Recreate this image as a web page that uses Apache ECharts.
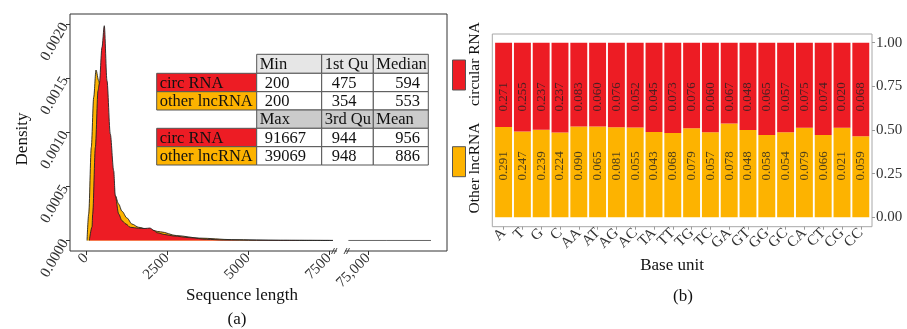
<!DOCTYPE html>
<html><head><meta charset="utf-8">
<script src="https://cdn.jsdelivr.net/npm/echarts@6/dist/echarts.min.js"></script>
<style>html,body{margin:0;padding:0;background:#fff}#c{width:907px;height:329px}</style>
</head><body><div id="c"></div>
<script>
// ---------- data ----------
const densityCirc = [[102,0],[185,0.000125],[206,0.000245],[288,0.000861],[370,0.001384],[410,0.001446],[493,0.001785],[564,0.001984],[647,0.001476],[749,0.000984],[854,0.000645],[903,0.000414],[1008,0.000245],[1110,0.000183],[1233,0.000152],[1366,0.000122],[1625,0.000113],[1819,0.000111],[1973,0.000115],[2096,0.000092],[2189,0.000072],[2435,0.000055],[2691,0.000042],[3206,0.000026],[3721,0.000011],[4233,0.000005],[5262,0.000002],[6597,0.000001],[7620,0.0000005]];
const densityOther = [[31,0],[83,0.000245],[163,0.000861],[237,0.001323],[308,0.001575],[391,0.001476],[462,0.001344],[555,0.00116],[678,0.000882],[801,0.000605],[903,0.000414],[1008,0.000337],[1110,0.00027],[1264,0.000208],[1418,0.000152],[1625,0.000122],[1900,0.000103],[2300,0.00008],[2800,0.000045],[3500,0.000022],[4500,0.000008],[6000,0.000002],[7620,0.0000005]];
const densityCircTail = [[69800,0.0000004],[80000,0.0000003],[91667,0.0000002]];
const xTicksLeft = [0,2500,5000,7500];
const xTicksTail = [75000];
const yTicksDensity = [0,0.0005,0.001,0.0015,0.002];

const tableRowLabels = ['circ RNA','other lncRNA'];
const tableHead1 = ['Min','1st Qu','Median'];
const tableVals1 = [[200,475,594],[200,354,553]];
const tableHead2 = ['Max','3rd Qu','Mean'];
const tableVals2 = [[91667,944,956],[39069,948,886]];

const baseUnits = ['A','T','G','C','AA','AT','AG','AC','TA','TT','TG','TC','GA','GT','GG','GC','CA','CT','CG','CC'];
const circValues = [0.271,0.255,0.237,0.237,0.083,0.060,0.076,0.052,0.045,0.073,0.076,0.060,0.067,0.048,0.065,0.057,0.075,0.074,0.020,0.068];
const otherValues = [0.291,0.247,0.239,0.224,0.090,0.065,0.081,0.055,0.043,0.068,0.079,0.057,0.078,0.048,0.058,0.054,0.079,0.066,0.021,0.059];
const yTicksFill = [0,0.25,0.5,0.75,1];

// ---------- style ----------
const RED = '#ED1C24', ORANGE = '#FDB300';
const FONT = 'Liberation Serif';
const otherFrac = otherValues.map((v,i)=> v/(v+circValues[i]));
const circFrac = circValues.map((v,i)=> v/(v+otherValues[i]));

// table graphics
const colX = [156.7, 256.7, 321.7, 373.3, 428.3];
const rowY = [54.3, 73.3, 91.7, 110, 128.3, 146.7, 165];
const numPad = [8, 10, 22];
const tableEls = [];
function cell(x0,x1,y0,y1,fill){
  tableEls.push({type:'rect', shape:{x:x0,y:y0,width:x1-x0,height:y1-y0}, style:{fill:fill, stroke:'#555', lineWidth:1}, z:10});
}
function txt(s,x,y,align){
  tableEls.push({type:'text', x:x, y:y, style:{text:String(s), fill:'#111', font:'16.5px "'+FONT+'"', align:align||'left', verticalAlign:'middle'}, z:11});
}
[[tableHead1,tableVals1,0,'#E6E6E6'],[tableHead2,tableVals2,3,'#CBCBCB']].forEach(([head,vals,r0,hcol])=>{
  head.forEach((h,j)=>{ cell(colX[j+1],colX[j+2],rowY[r0],rowY[r0+1],hcol); txt(h,colX[j+1]+3,(rowY[r0]+rowY[r0+1])/2+1); });
  vals.forEach((row,i)=>{
    const r = r0+1+i;
    cell(colX[0],colX[1],rowY[r],rowY[r+1], i===0?RED:ORANGE);
    txt(tableRowLabels[i], colX[0]+3, (rowY[r]+rowY[r+1])/2+1);
    row.forEach((v,j)=>{ cell(colX[j+1],colX[j+2],rowY[r],rowY[r+1],'#fff'); txt(v,colX[j+1]+numPad[j],(rowY[r]+rowY[r+1])/2+1); });
  });
});

const titleFont = '17px "'+FONT+'"';
const otherEls = [
  {type:'text', x:23, y:139, rotation:Math.PI/2, style:{text:'Density', font:titleFont, fill:'#111', align:'center', verticalAlign:'middle'}},
  {type:'text', x:242, y:296, style:{text:'Sequence length', font:titleFont, fill:'#111', align:'center', verticalAlign:'middle'}},
  {type:'text', x:237, y:320, style:{text:'(a)', font:titleFont, fill:'#111', align:'center', verticalAlign:'middle'}},
  {type:'text', x:672, y:266, style:{text:'Base unit', font:titleFont, fill:'#111', align:'center', verticalAlign:'middle'}},
  {type:'text', x:683, y:297, style:{text:'(b)', font:titleFont, fill:'#111', align:'center', verticalAlign:'middle'}},
  // legend
  {type:'rect', shape:{x:452.5,y:60,width:13,height:30}, style:{fill:RED, stroke:'#555', lineWidth:1}},
  {type:'rect', shape:{x:452.5,y:146.7,width:13,height:30}, style:{fill:ORANGE, stroke:'#555', lineWidth:1}},
  {type:'text', x:475, y:64, rotation:Math.PI/2, style:{text:'circular RNA', font:'15.5px "'+FONT+'"', fill:'#111', align:'center', verticalAlign:'middle'}},
  {type:'text', x:475, y:168, rotation:Math.PI/2, style:{text:'Other lncRNA', font:'15.5px "'+FONT+'"', fill:'#111', align:'center', verticalAlign:'middle'}},
  // axis break marks
  {type:'rect', shape:{x:337,y:249,width:8,height:5}, style:{fill:'#fff'}, z:20},
  {type:'line', shape:{x1:331.5,y1:254,x2:334.5,y2:248}, style:{stroke:'#333', lineWidth:0.9}, z:21},
  {type:'line', shape:{x1:334,y1:254,x2:337,y2:248}, style:{stroke:'#333', lineWidth:0.9}, z:21},
  {type:'line', shape:{x1:344,y1:254,x2:347,y2:248}, style:{stroke:'#333', lineWidth:0.9}, z:21},
  {type:'line', shape:{x1:346.5,y1:254,x2:349.5,y2:248}, style:{stroke:'#333', lineWidth:0.9}, z:21}
];

const hid = (gi)=>({gridIndex:gi, type:'value', show:false, min:0, max:1});
const tickLabel = {fontFamily:FONT, fontSize:15, color:'#333'};
const D_MIN = -0.000097, D_MAX = 0.0020924;
const noLine = {show:false, onZero:false};

const chart = echarts.init(document.getElementById('c'), null, {renderer:'canvas'});
chart.setOption({
  animation:false,
  backgroundColor:'#fff',
  textStyle:{fontFamily:FONT},
  grid:[
    {left:70, top:14, width:377, height:237, show:true, borderColor:'#333', borderWidth:1, backgroundColor:'#fff'},
    {left:70, top:14, width:263, height:237},
    {left:348, top:14, width:99, height:237},
    {left:492.3, top:34, width:379.7, height:192.7, show:true, borderColor:'#A8A8A8', borderWidth:1, backgroundColor:'#fff'},
    {left:494.2, top:42.7, width:376, height:174.6}
  ],
  xAxis:[
    hid(0),
    {gridIndex:1, type:'value', min:-494, max:7620,
      axisLine:noLine, splitLine:{show:false},
      axisTick:{show:true, length:4, lineStyle:{color:'#333'}, customValues:xTicksLeft},
      axisLabel:Object.assign({rotate:45, margin:5, customValues:xTicksLeft, formatter:v=>String(v)}, tickLabel)},
    {gridIndex:2, type:'value', min:69700, max:95900,
      axisLine:noLine, splitLine:{show:false},
      axisTick:{show:true, length:4, lineStyle:{color:'#333'}, customValues:xTicksTail},
      axisLabel:Object.assign({rotate:45, margin:5, customValues:xTicksTail, formatter:v=>v.toLocaleString('en-US')}, tickLabel)},
    hid(3),
    {gridIndex:4, type:'category', data:baseUnits, offset:9.4,
      axisLine:noLine, splitLine:{show:false},
      axisTick:{show:true, length:3, alignWithLabel:true, lineStyle:{color:'#999'}},
      axisLabel:Object.assign({rotate:45, margin:4, interval:0}, tickLabel)}
  ],
  yAxis:[
    hid(0),
    {gridIndex:1, type:'value', min:D_MIN, max:D_MAX,
      axisLine:noLine, splitLine:{show:false},
      axisTick:{show:true, length:4, lineStyle:{color:'#333'}, customValues:yTicksDensity},
      axisLabel:Object.assign({rotate:60, margin:5, customValues:yTicksDensity, formatter:v=>v.toFixed(4)}, tickLabel)},
    {gridIndex:2, type:'value', min:D_MIN, max:D_MAX, show:false},
    hid(3),
    {gridIndex:4, type:'value', position:'right', min:0, max:1, offset:1.8,
      axisLine:noLine, splitLine:{show:false},
      axisTick:{show:true, length:3, lineStyle:{color:'#999'}, customValues:yTicksFill},
      axisLabel:Object.assign({margin:4, customValues:yTicksFill, formatter:v=>v.toFixed(2)}, tickLabel)}
  ],
  series:[
    {type:'line', name:'other lncRNA', xAxisIndex:1, yAxisIndex:1, data:densityOther, showSymbol:false, symbol:'none',
      smooth:0.3, smoothMonotone:'x', lineStyle:{color:'#222', width:0.9}, areaStyle:{color:ORANGE, opacity:1}, z:2},
    {type:'line', name:'circ RNA', xAxisIndex:1, yAxisIndex:1, data:densityCirc, showSymbol:false, symbol:'none',
      smooth:0.3, smoothMonotone:'x', lineStyle:{color:'#222', width:0.9}, areaStyle:{color:RED, opacity:1}, z:3},
    {type:'line', name:'circ RNA tail', xAxisIndex:2, yAxisIndex:2, data:densityCircTail, showSymbol:false, symbol:'none',
      lineStyle:{color:'#666', width:1}, areaStyle:{color:RED, opacity:1}, z:3},
    {type:'bar', name:'Other lncRNA', xAxisIndex:4, yAxisIndex:4, stack:'p', data:otherFrac, barCategoryGap:'10%',
      itemStyle:{color:ORANGE}},
    {type:'bar', name:'circular RNA', xAxisIndex:4, yAxisIndex:4, stack:'p', data:circFrac, barCategoryGap:'10%',
      itemStyle:{color:RED}},
    {type:'scatter', xAxisIndex:4, yAxisIndex:4, data:baseUnits.map((c,i)=>[i,0.295]), symbolSize:1,
      itemStyle:{color:'transparent'}, z:5,
      label:{show:true, position:'inside', rotate:90, formatter:p=>otherValues[p.dataIndex].toFixed(3), fontFamily:FONT, fontSize:13, color:'#222'}},
    {type:'scatter', xAxisIndex:4, yAxisIndex:4, data:baseUnits.map((c,i)=>[i,0.69]), symbolSize:1,
      itemStyle:{color:'transparent'}, z:5,
      label:{show:true, position:'inside', rotate:90, formatter:p=>circValues[p.dataIndex].toFixed(3), fontFamily:FONT, fontSize:13, color:'#222'}}
  ],
  graphic:{elements: tableEls.concat(otherEls)}
});
</script></body></html>
